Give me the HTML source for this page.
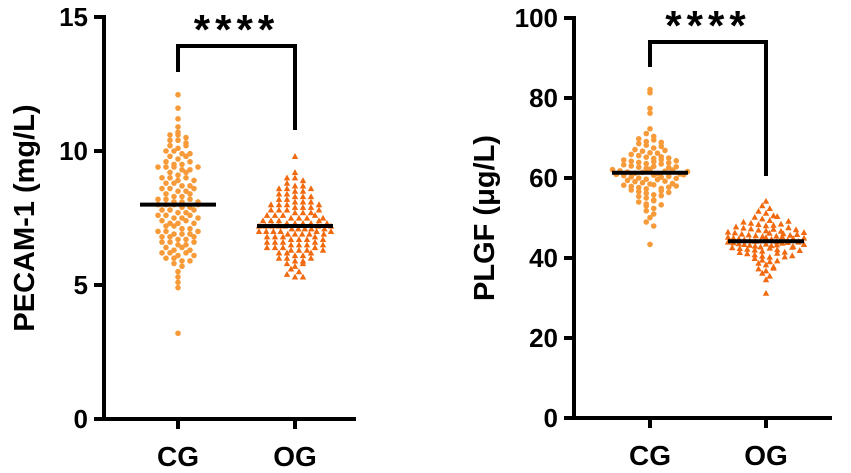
<!DOCTYPE html>
<html><head><meta charset="utf-8"><style>
body{margin:0;background:#fff}
svg{display:block;font-family:"Liberation Sans",Arial,sans-serif;font-weight:bold}
</style></head><body>
<svg id="c" width="851" height="473" viewBox="0 0 851 473"></svg>
<script>
// ---- data ----
const categories = ["CG","OG"];
const pecamCG = [12.1,11.6,11.2,10.9,10.7,10.6,10.6,10.5,10.4,10.4,10.3,10.2,10.1,10.0,10.0,9.9,9.9,9.8,9.7,9.6,9.5,9.5,9.4,9.4,9.4,9.3,9.3,9.2,9.1,9.0,9.0,8.9,8.8,8.8,8.7,8.6,8.6,8.5,8.4,8.3,8.3,8.2,8.2,8.1,8.1,8.0,8.0,8.0,7.9,7.9,7.8,7.8,7.7,7.7,7.6,7.6,7.5,7.5,7.4,7.3,7.3,7.2,7.2,7.1,7.0,7.0,6.9,6.9,6.8,6.8,6.7,6.7,6.6,6.6,6.5,6.5,6.4,6.3,6.2,6.2,6.1,6.0,6.0,5.9,5.8,5.7,5.5,5.3,5.1,4.9,3.2,9.4,9.0,8.7,8.5,8.2,8.0,7.6,7.4,7.1,6.9,6.6,6.4,6.2,7.8,8.4,8.9,9.6,10.2,6.8,7.3,7.5,8.6,9.2,5.9,6.1,6.3,7.0,8.1,9.8];
const pecamOG = [9.8,9.2,9.0,9.0,8.9,8.8,8.7,8.7,8.6,8.6,8.5,8.5,8.4,8.4,8.3,8.3,8.2,8.2,8.1,8.1,8.0,8.0,8.0,7.9,7.9,7.8,7.8,7.8,7.7,7.7,7.6,7.6,7.6,7.5,7.5,7.5,7.4,7.4,7.4,7.3,7.3,7.3,7.3,7.2,7.2,7.2,7.2,7.2,7.1,7.1,7.1,7.1,7.0,7.0,7.0,7.0,6.9,6.9,6.9,6.9,6.8,6.8,6.8,6.7,6.7,6.7,6.6,6.6,6.6,6.5,6.5,6.5,6.4,6.4,6.4,6.3,6.3,6.3,6.2,6.2,6.1,6.1,6.0,6.0,5.9,5.9,5.8,5.7,5.6,5.5,5.4,5.3,5.3,7.2,7.0,7.4,6.8,7.6,7.9,8.1,6.6,6.4,7.1,7.3,6.9,8.3,8.6,6.2,6.0,7.5,7.7,5.8,6.7,7.0,7.2,8.0,6.5,7.8,6.3];
const plgfCG = [82.1,81.3,77.4,76.2,72.3,71.1,70.4,69.8,69.1,68.6,68.2,67.5,67.1,66.7,66.3,65.9,65.6,65.2,64.9,64.5,64.2,63.9,63.6,63.3,63.0,62.7,62.4,62.1,61.8,61.5,61.2,60.9,60.6,60.3,60.0,59.7,59.4,59.1,58.8,58.5,58.2,57.9,57.6,57.3,57.0,56.6,56.2,55.8,55.4,55.0,54.5,54.0,53.5,53.0,52.4,51.8,51.0,50.1,49.0,48.0,43.4,62.9,61.4,59.6,64.1,66.2,58.3,60.7,62.2,57.4,65.3,67.9,55.6,61.1,60.2,63.5,59.2,56.8,64.6,62.6,58.6,66.9,61.7,60.4,54.3,53.3,69.5,68.9,57.7,62.0,63.8,61.0,59.9,58.0,60.8,64.3,62.8,56.4,65.0,61.6];
const plgfOG = [54.2,53.1,52.4,51.7,51.2,50.6,50.2,49.8,49.4,49.0,48.7,48.4,48.1,47.8,47.5,47.3,47.0,46.8,46.5,46.3,46.0,45.8,45.6,45.4,45.2,45.0,44.8,44.6,44.4,44.2,44.0,43.8,43.6,43.4,43.2,43.0,42.8,42.6,42.4,42.2,42.0,41.7,41.4,41.1,40.8,40.5,40.2,39.9,39.5,39.1,38.7,38.3,37.8,37.3,36.8,36.2,35.5,34.6,31.2,44.3,45.1,43.5,46.2,42.5,47.2,41.2,44.7,48.2,40.3,45.5,43.1,46.7,42.1,44.1,39.3,47.6,45.3,43.3,41.5,44.5,46.1,42.7,48.5,44.9,43.7,45.7,40.6,37.5,49.2,50.4,44.2,43.9,45.9,42.9,46.4,41.9,44.0,47.1,43.4,45.0];
const pecamTicks = [0,5,10,15];
const plgfTicks = [0,20,40,60,80,100];
const medians1 = [8.0,7.2];
const medians2 = [61.3,44.2];

const NS="http://www.w3.org/2000/svg";
const svg=document.getElementById('c');
function mk(t,a,p){const e=document.createElementNS(NS,t);for(const k in a)e.setAttribute(k,a[k]);(p||svg).appendChild(e);return e;}

function panel(o){
  const g=mk('g',{});
  
  
  const y=v=>o.y0-(v/o.max)*(o.y0-o.y1);
  const xs=[o.x+o.off1,o.x+o.off2];
  const ya=mk('line',{x1:o.x,y1:o.y1-2,x2:o.x,y2:o.y0+2,stroke:'#000','stroke-width':4},g);
  
  const xa=mk('line',{x1:o.x-2,y1:o.y0,x2:o.xend,y2:o.y0,stroke:'#000','stroke-width':4},g);
  
  o.ticks.forEach(t=>{
    const l=mk('line',{x1:o.x-10,x2:o.x,y1:y(t),y2:y(t),stroke:'#000','stroke-width':4},g);
    
    const tx=mk('text',{x:o.x-16,y:y(t)+9,'text-anchor':'end','font-size':26},g);tx.textContent=t;
    
  });
  categories.forEach((c,i)=>{
    const l=mk('line',{x1:xs[i],x2:xs[i],y1:o.y0,y2:o.y0+10,stroke:'#000','stroke-width':4},g);
    
    const tx=mk('text',{x:xs[i],y:o.y0+47,'text-anchor':'middle','font-size':28},g);tx.textContent=c;
    
  });
  const yt=mk('text',{transform:`translate(${o.lx},${(o.y0+o.y1)/2}) rotate(-90)`,'text-anchor':'middle','font-size':29},g);
  yt.textContent=o.label;
  
  [o.a,o.b].forEach((arr,gi)=>{
    const rows={};
    arr.forEach(v=>{const r=Math.round(y(v)/o.bin);(rows[r]=rows[r]||[]).push(v);});
    for(const r in rows){
      const n=rows[r].length;
      const dx=Math.min(o.dx, 2*o.hw/Math.max(1,n-1));
      rows[r].forEach((v,k)=>{
        const cx=xs[gi]+(k-(n-1)/2)*dx;
        const cy=y(v);
        let m;
        if(gi===0){m=mk('circle',{cx:cx,cy:cy,r:2.8,fill:'#F79B3A'},g);}
        else{m=mk('path',{d:`M${cx},${cy-3.3}L${cx+3.2},${cy+2.6}L${cx-3.2},${cy+2.6}Z`,fill:'#F26A10'},g);}
        
        
      });
    }
  });
  o.med.forEach((m,i)=>{
    const l=mk('line',{x1:xs[i]-38,x2:xs[i]+38,y1:y(m),y2:y(m),stroke:'#000','stroke-width':4},g);
    
  });
  const br=mk('path',{d:`M${xs[0]},${o.b1}V${o.bt}H${xs[1]}V${o.b2}`,fill:'none',stroke:'#000','stroke-width':4},g);
  
  const st=mk('text',{x:(xs[0]+xs[1])/2,y:o.bt-2,'text-anchor':'middle','font-size':42,'letter-spacing':'5'},g);
  st.textContent='****';
  
}
panel({name:'pecam-panel',x:104,xend:356,off1:74,off2:191,y0:419,y1:17,max:15,ticks:pecamTicks,a:pecamCG,b:pecamOG,med:medians1,label:'PECAM-1 (mg/L)',lx:34,bin:5.4,dx:8,hw:36,b1:72,bt:46,b2:130});
panel({name:'plgf-panel',x:574,xend:832,off1:76,off2:192,y0:418,y1:18,max:100,ticks:plgfTicks,a:plgfCG,b:plgfOG,med:medians2,label:'PLGF (μg/L)',lx:494,bin:5.2,dx:7.5,hw:38,b1:67,bt:42,b2:176});
</script>
</body></html>
